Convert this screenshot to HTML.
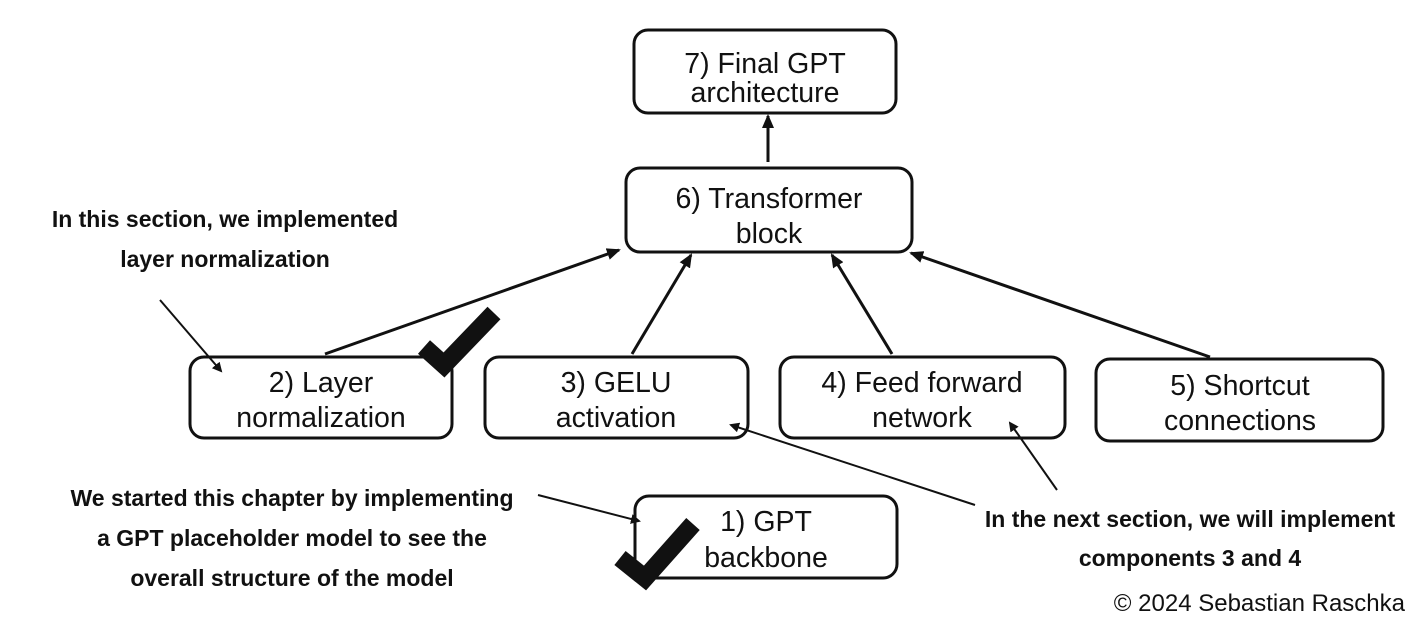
<!DOCTYPE html>
<html><head><meta charset="utf-8"><style>
html,body{margin:0;padding:0;background:#fff;}
svg{display:block}
.b{font-family:"Liberation Sans",sans-serif;font-size:28.5px;fill:#111;text-anchor:middle}
.n{font-family:"Liberation Sans Narrow","Liberation Sans",sans-serif;font-weight:bold;font-size:23px;fill:#111;text-anchor:middle}
</style></head><body>
<svg width="1417" height="628" viewBox="0 0 1417 628" xmlns="http://www.w3.org/2000/svg">
<defs>
<marker id="a" markerWidth="10" markerHeight="10" refX="8" refY="5" orient="auto" markerUnits="userSpaceOnUse"><path d="M0,0 L10,5 L0,10 z" fill="#111"/></marker>
<marker id="s" markerWidth="14" markerHeight="12" refX="12" refY="6" orient="auto" markerUnits="userSpaceOnUse"><path d="M0,0 L14,6 L0,12 z" fill="#111"/></marker>
</defs>
<g fill="none" stroke="#111" stroke-width="3">
<rect x="634" y="30" width="262" height="83" rx="14"/>
<rect x="626" y="168" width="286" height="84" rx="14"/>
<rect x="190" y="357" width="262" height="81" rx="14"/>
<rect x="485" y="357" width="263" height="81" rx="14"/>
<rect x="780" y="357" width="285" height="81" rx="14"/>
<rect x="1096" y="359" width="287" height="82" rx="14"/>
<rect x="635" y="496" width="262" height="82" rx="14"/>
<line x1="768" y1="162" x2="768" y2="116" marker-end="url(#s)"/>
<line x1="325" y1="354" x2="619" y2="250" marker-end="url(#s)"/>
<line x1="632" y1="354" x2="691" y2="255" marker-end="url(#s)"/>
<line x1="892" y1="354" x2="832" y2="255" marker-end="url(#s)"/>
<line x1="1210" y1="357" x2="911" y2="253" marker-end="url(#s)"/>
</g>
<g stroke="#111" stroke-width="2" fill="none">
<line x1="160" y1="300" x2="221" y2="371" marker-end="url(#a)"/>
<line x1="538" y1="495" x2="639" y2="521" marker-end="url(#a)"/>
<line x1="975" y1="505" x2="731" y2="425" marker-end="url(#a)"/>
<line x1="1057" y1="490" x2="1010" y2="423" marker-end="url(#a)"/>
</g>
<g stroke="#111" stroke-width="18" fill="none" stroke-linejoin="miter">
<polyline points="424,347 444,365 494,313"/>
<polyline points="620,558 645,578 693,524"/>
</g>
<text class="b" x="765" y="73">7) Final GPT</text>
<text class="b" x="765" y="102">architecture</text>
<text class="b" x="769" y="208">6) Transformer</text>
<text class="b" x="769" y="243">block</text>
<text class="b" x="321" y="392">2) Layer</text>
<text class="b" x="321" y="427">normalization</text>
<text class="b" x="616" y="392">3) GELU</text>
<text class="b" x="616" y="427">activation</text>
<text class="b" x="922" y="392">4) Feed forward</text>
<text class="b" x="922" y="427">network</text>
<text class="b" x="1240" y="395">5) Shortcut</text>
<text class="b" x="1240" y="430">connections</text>
<text class="b" x="766" y="531">1) GPT</text>
<text class="b" x="766" y="567">backbone</text>
<text class="n" x="225" y="227">In this section, we implemented</text>
<text class="n" x="225" y="267">layer normalization</text>
<text class="n" x="292" y="506">We started this chapter by implementing</text>
<text class="n" x="292" y="546">a GPT placeholder model to see the</text>
<text class="n" x="292" y="586">overall structure of the model</text>
<text class="n" x="1190" y="527">In the next section, we will implement</text>
<text class="n" x="1190" y="566">components 3 and 4</text>
<text x="1405" y="611" style="font-family:'Liberation Sans',sans-serif;font-size:24px;fill:#111;text-anchor:end">© 2024 Sebastian Raschka</text>
</svg>
</body></html>
